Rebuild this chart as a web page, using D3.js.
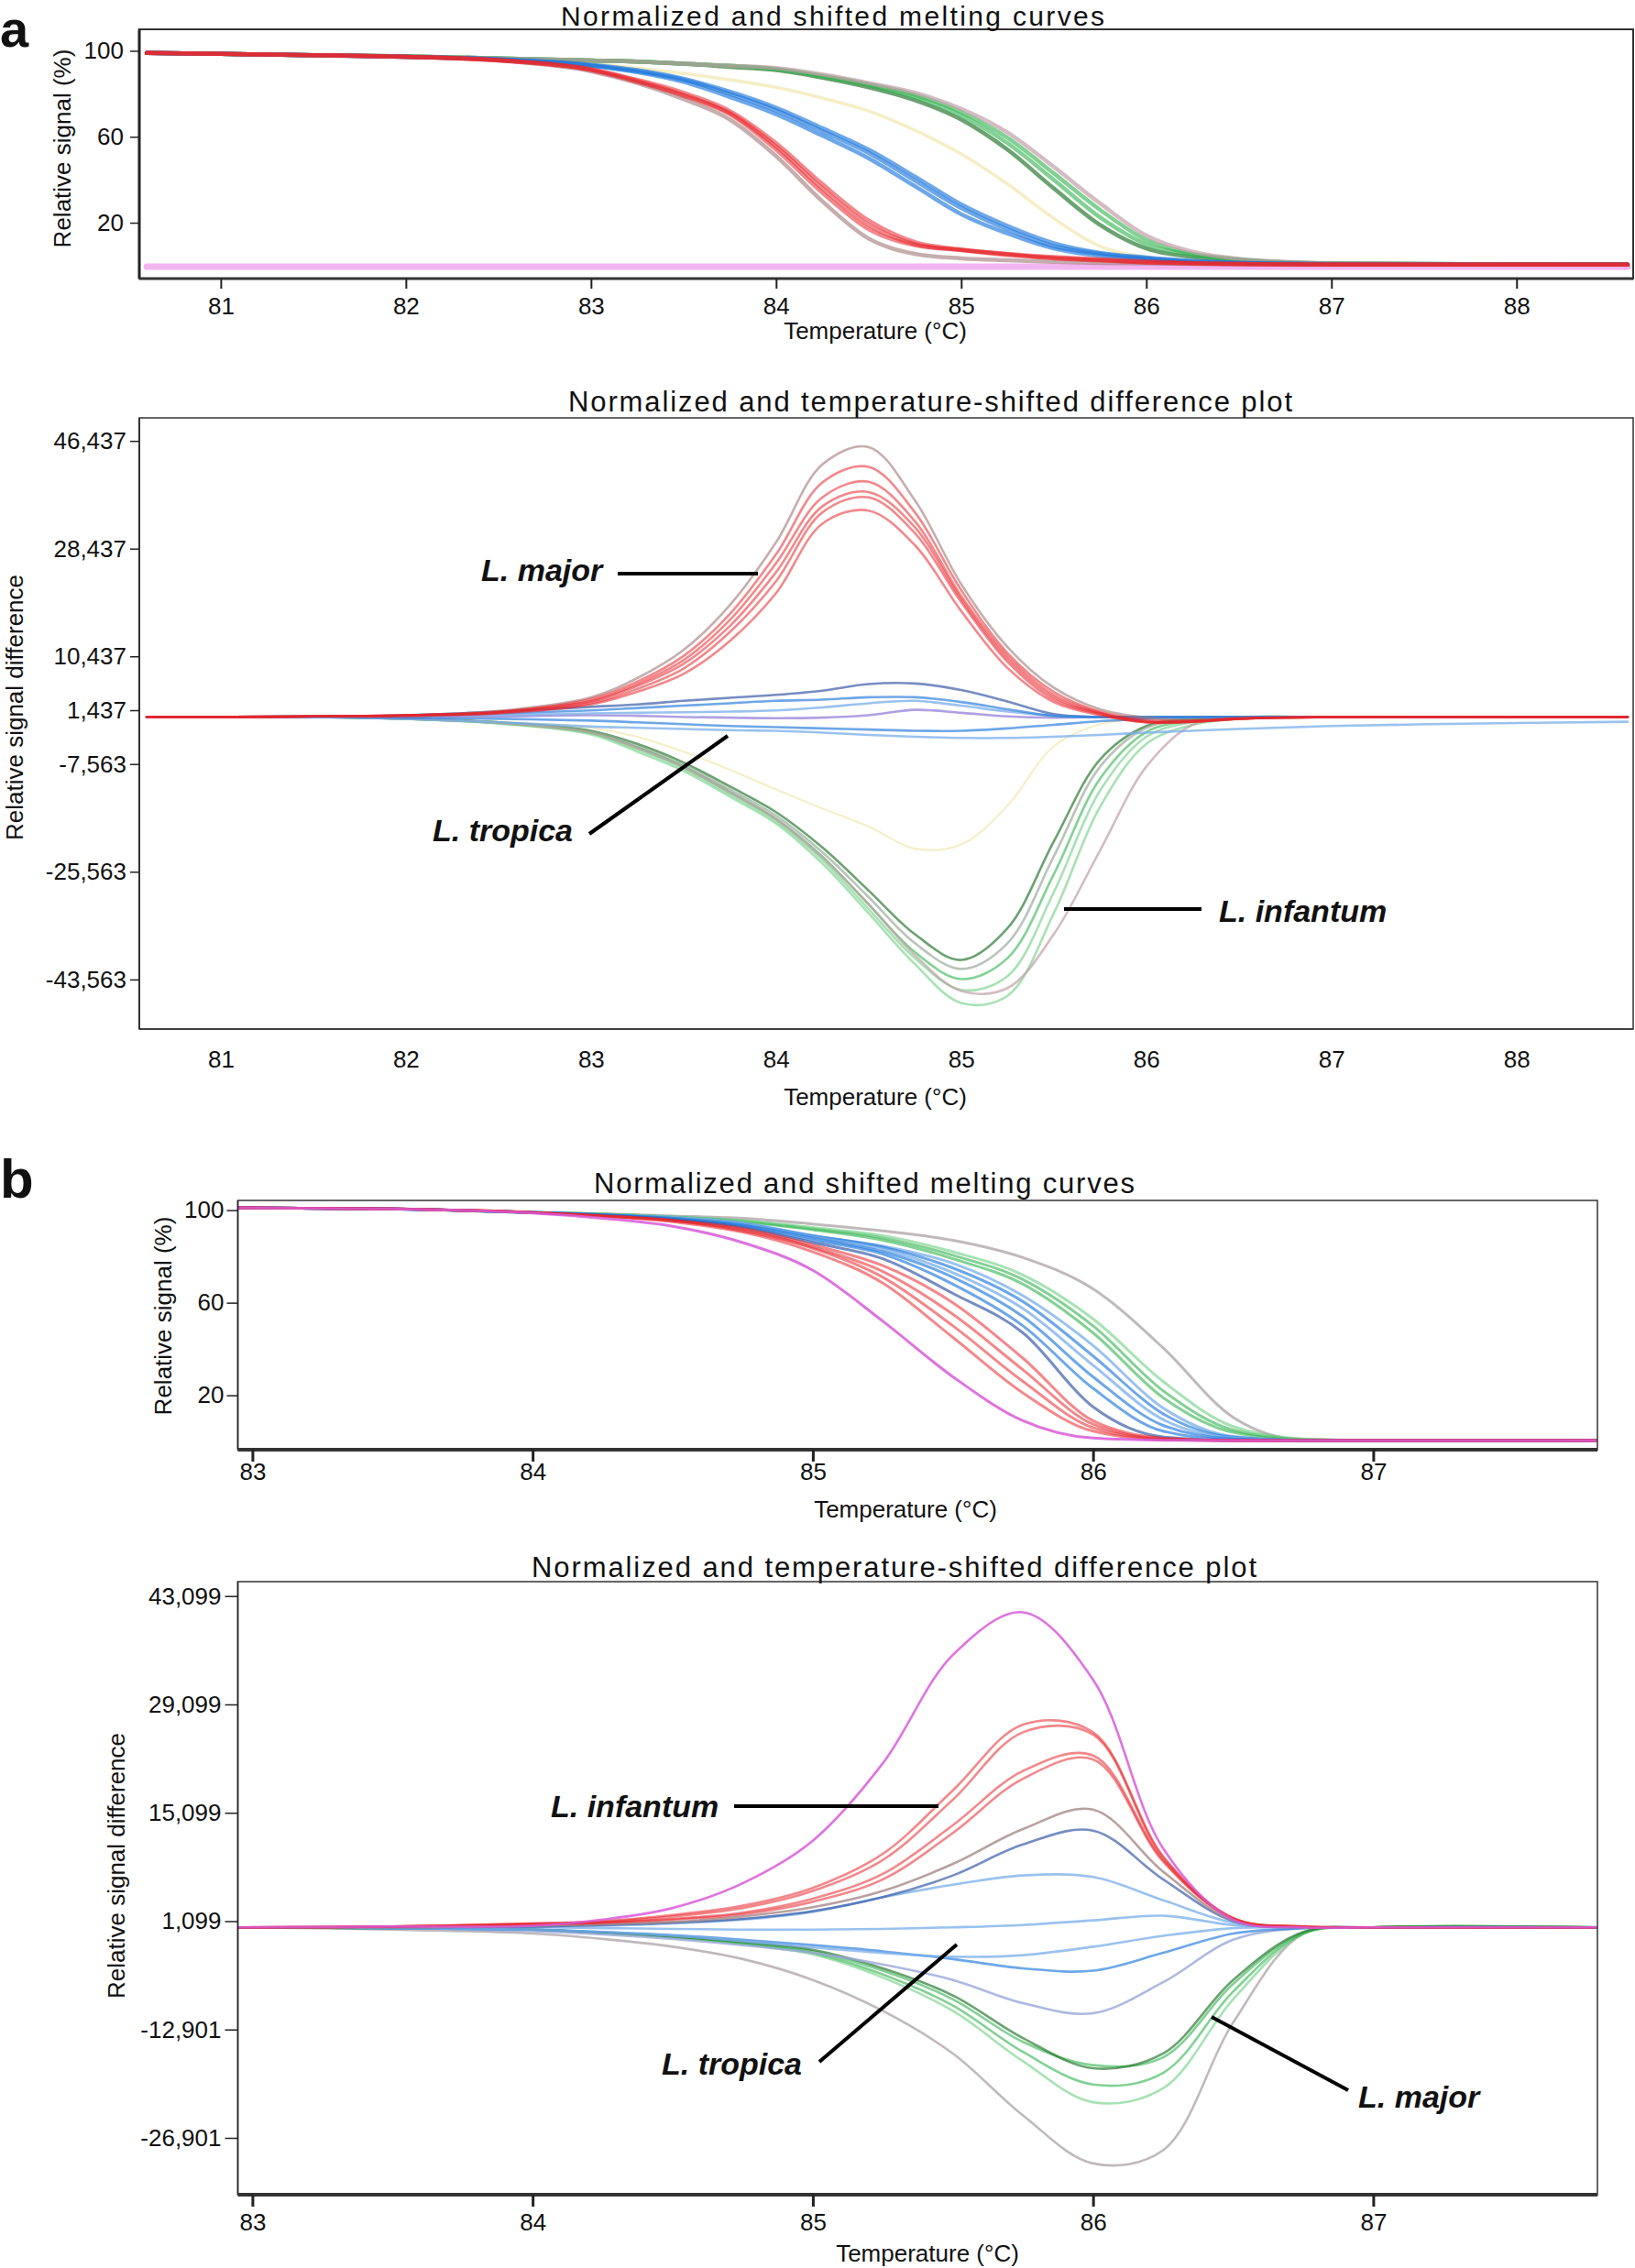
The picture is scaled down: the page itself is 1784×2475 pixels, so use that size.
<!DOCTYPE html>
<html><head><meta charset="utf-8">
<script src="https://cdn.jsdelivr.net/npm/d3@7"></script>
<style>
body{margin:0;background:#fff}
svg{display:block}
text{font-family:"Liberation Sans",Arial,sans-serif;fill:#111}
</style>
</head><body>
<svg id="c" width="1784" height="2475"></svg>
<script>
// ---------------- DATA ----------------
// Panel a: temperature grid (°C)
const aTemps = [80.6, 81, 81.5, 82, 82.5, 83, 83.25, 83.5, 83.75, 84, 84.25, 84.5, 84.75, 85, 85.25, 85.5, 85.75, 86, 86.25, 86.5, 87, 88, 88.6];
const aTempTicks = [81, 82, 83, 84, 85, 86, 87, 88];
const aTempTickLabels = ["81", "82", "83", "84", "85", "86", "87", "88"];

// Panel a, melting curves (relative signal %)
const aMeltGroups = ["pink", "yellow", "darkgreen", "green", "green", "graypink", "blue", "blue", "blue", "redgray", "red", "red", "red"];
const aMeltCurves = [
  [-0.5,-0.5,-0.5,-0.5,-0.5,-0.5,-0.5,-0.5,-0.5,-0.5,-0.5,-0.5,-0.5,-0.5,-0.5,-0.5,-0.5,-0.5,-0.5,-0.5,-0.5,-0.5,-0.5],
  [99,98.6,98,97.2,96,94,92,89.5,86.5,83,78,72,63,52,38,22,9,4,2,1.2,0.7,0.5,0.5],
  [99,98.6,98,97.4,96.5,95.5,95,94,92.5,91,87.5,83,77,68,54,36,19,8,4,2.5,1,0.6,0.5],
  [99,98.6,98,97.4,96.5,95.5,95,94,93,91.5,88,84,78.5,70,57,40,22.5,10,5,2.8,1,0.6,0.5],
  [99,98.6,98,97.4,96.5,95.5,95,94,93,91.5,88.5,84.5,79.5,71.5,59.5,43,26,12,5.5,3,1.1,0.6,0.5],
  [99,98.6,98,97.4,96.5,95.5,95,94,93,92,89,85,80.5,73,62,46,29,14,6.5,3.2,1.2,0.6,0.5],
  [99,98.6,98,97.2,96,93.5,91,87,81,73.5,64,54,41.5,28.5,18.5,10.5,6,3.8,2.2,1.4,0.7,0.5,0.5],
  [99,98.6,98,97.2,96,93.2,90.5,86.5,80,72.3,62.5,52.4,39.6,26.8,16.9,9.1,5.5,3.4,1.8,1.2,0.7,0.5,0.5],
  [99,98.6,98,97.2,95.8,93,90,85.5,78.5,70.5,60.5,50,37,24,15,8,4.5,3,1.7,1.1,0.7,0.5,0.5],
  [99,98.6,98,97.2,95.5,90.5,85,77.5,68,51,30,12.6,5.5,3.4,2.5,1.8,1.3,1,0.8,0.6,0.5,0.5,0.5],
  [99,98.6,98,97.2,95.5,91,85.5,79,70.5,54,34,17,9.5,7.3,5.3,3.4,2.4,1.5,1,0.8,0.5,0.5,0.5],
  [99,98.6,98,97.2,95.7,91.5,86.5,80.5,72,57,38,21,11,7.5,5.5,4,3,2,1.2,0.8,0.5,0.5,0.5],
  [99,98.6,98,97.2,95.6,91.2,86,79.5,71,55.5,36,19,10,7.2,5,3.6,2.6,1.6,1,0.8,0.5,0.5,0.5]
];
const aMeltYTicks = [100, 60, 20];
const aMeltYTickLabels = ["100", "60", "20"];

// Panel a, difference plot (relative signal difference, thousands)
const aDiffGroups = ["yellow", "darkgreen", "graygreen", "green", "lightgreen", "lightgreen", "graypink",
  "lightblue", "blue", "purple", "navy", "lightblue", "blue",
  "redgray", "red", "red", "red", "red", "red"];
const aDiffCurves = [
  [0.3,0.3,0.3,0,-0.5,-1.5,-3,-5.5,-8.5,-11.8,-15,-18,-21.7,-21,-14.5,-4.6,-0.9,0.1,0.3,0.3,0.3,0.3,0.3],
  [0.3,0.3,0.3,0,-0.6,-2,-4.2,-7.3,-11.3,-15.6,-21.5,-28.7,-36,-40.3,-35,-20.5,-6.8,-1.2,0,0.3,0.3,0.3,0.3],
  [0.3,0.3,0.3,0,-0.6,-2.1,-4.5,-7.7,-11.8,-16.2,-22.3,-29.8,-37.5,-41.8,-37.5,-23,-8,-1.5,-0.1,0.3,0.3,0.3,0.3],
  [0.3,0.3,0.3,0,-0.7,-2.3,-4.8,-8,-12.2,-16.7,-23,-31,-39,-43.5,-40,-26,-10,-2.2,-0.3,0.3,0.3,0.3,0.3],
  [0.3,0.3,0.3,0,-0.7,-2.4,-5.1,-8.3,-12.6,-17.1,-23.6,-31.8,-40,-45.3,-43,-29,-12,-3,-0.5,0.2,0.3,0.3,0.3],
  [0.3,0.3,0.3,0,-0.8,-2.6,-5.5,-8.7,-13,-17.5,-24.2,-32.5,-41,-47.5,-46.3,-32.5,-14.7,-4.2,-1,0,0.3,0.3,0.3],
  [0.3,0.3,0.3,0,-0.7,-2.3,-4.9,-8.1,-12.3,-16.8,-23.2,-31,-39.5,-45.5,-45,-36,-22,-8,-1,0.2,0.3,0.3,0.3],
  [0.3,0.3,0.3,0,-0.6,-1.3,-1.5,-1.7,-1.9,-2,-2.3,-2.7,-3,-3.2,-3.2,-3,-2.7,-2.3,-2,-1.7,-1.2,-0.7,-0.5],
  [0.3,0.3,0.3,0.2,0,-0.3,-0.6,-0.9,-1.2,-1.4,-1.6,-1.8,-2,-2,-1.6,-1,-0.4,0,0.3,0.3,0.3,0.3,0.3],
  [0.3,0.3,0.3,0.3,0.4,0.6,0.5,0.3,0.2,0.1,0.2,0.6,1.5,1.0,0.4,0.2,0.3,0.3,0.3,0.3,0.3,0.3,0.3],
  [0.3,0.3,0.4,0.6,1.2,2,2.4,3,3.5,4,4.7,5.8,5.9,4.8,2.9,0.8,0.3,0.3,0.3,0.3,0.3,0.3,0.3],
  [0.3,0.3,0.3,0.4,0.6,0.9,1,1.1,1.2,1.4,1.9,2.6,3.0,2.2,1.2,0.5,0.3,0.3,0.3,0.3,0.3,0.3,0.3],
  [0.3,0.3,0.4,0.5,0.9,1.4,1.8,2.2,2.6,3,3.2,3.6,3.6,2.8,1.6,0.5,0.3,0.3,0.3,0.3,0.3,0.3,0.3],
  [0.3,0.3,0.4,0.6,1.3,3.6,6.8,11.5,19,29.5,42.5,45.4,36.5,22.5,12,5.2,1.6,0.2,-0.2,0.1,0.3,0.3,0.3],
  [0.3,0.3,0.4,0.6,1.2,3.3,6.2,10.5,17.5,27.5,39.5,42.1,34.5,21.5,11,4.5,1.2,-0.2,-0.3,0.1,0.3,0.3,0.3],
  [0.3,0.3,0.4,0.6,1.1,3.0,5.8,9.8,16.5,26,37,39.6,33,20.5,10.5,4,1,-0.4,-0.4,0,0.3,0.3,0.3],
  [0.3,0.3,0.4,0.6,1.1,2.9,5.5,9.2,15.5,24.5,35.5,37.9,32,20,10,3.6,0.9,-0.5,-0.5,0,0.3,0.3,0.3],
  [0.3,0.3,0.4,0.5,1.0,2.6,5,8.4,14.5,23,34.5,37,31,19.5,9.5,3.2,0.8,-0.6,-0.5,0,0.3,0.3,0.3],
  [0.3,0.3,0.4,0.5,0.9,2.4,4.5,7.5,13,21,32.6,34.8,29,18,8.5,2.8,0.6,-0.6,-0.5,0,0.3,0.3,0.3]
];
const aDiffYTicks = [46.437, 28.437, 10.437, 1.437, -7.563, -25.563, -43.563];
const aDiffYTickLabels = ["46,437", "28,437", "10,437", "1,437", "-7,563", "-25,563", "-43,563"];
const aDiffNotes = ["L. major", "L. tropica", "L. infantum"];

// Panel b: temperature grid (°C)
const bTemps = [82.95, 83.5, 84, 84.25, 84.5, 84.75, 85, 85.25, 85.5, 85.75, 86, 86.25, 86.5, 86.75, 87, 87.8];
const bTempTicks = [83, 84, 85, 86, 87];
const bTempTickLabels = ["83", "84", "85", "86", "87"];

// Panel b, melting curves
const bMeltGroups = ["gray", "green", "green", "lightgreen", "lightblue", "blue", "lightblue", "blue", "blue", "navy", "red", "red", "red", "red", "pink"];
const bMeltCurves = [
  [101,100.5,99,98.5,97.5,96.5,94,91,87,79.5,66,40.5,10.5,0.8,0.6,0.6],
  [101,100.5,99,98.3,97,95,91.5,87,79,68,47,19,4,0.8,0.6,0.6],
  [101,100.5,99,98.3,97,95.3,92,88,80.5,70,50,22,5,1,0.6,0.6],
  [101,100.5,99,98.3,97.2,95.5,92.5,89,82,72,53,26,6.5,1.2,0.6,0.6],
  [101,100.5,99,98,97,94.5,89,84.5,77,63,41.5,14.5,2.2,0.5,0.5,0.5],
  [101,100.5,99,98,96.5,94,89,84,75,60.5,37,12,1.9,0.5,0.5,0.5],
  [101,100.5,99,98,96.5,94,88.5,83,73,57.5,33,9.5,1.6,0.5,0.5,0.5],
  [101,100.5,99,98,96.5,93.5,88,82,71,54,28,7,1.2,0.5,0.5,0.5],
  [101,100.5,99,98,96,93,87,81,68,50,23,4.5,0.8,0.5,0.5,0.5],
  [101,100.5,99,97.8,96,92.5,86,79,64,47,15,2,0.5,0.5,0.5,0.5],
  [101,100.5,99,97.5,95.5,92,85,76,60,36,9,1.5,0.5,0.5,0.5,0.5],
  [101,100.5,99,97.5,95.5,91.5,84,73.5,55,31,7.5,1.2,0.5,0.5,0.5,0.5],
  [101,100.5,99,97.5,95.5,91,83.5,71,50,26,6,1,0.5,0.5,0.5,0.5],
  [101,100.5,99,97.5,95,90.5,82,68.5,45,21,4.5,0.8,0.5,0.5,0.5,0.5],
  [101,100.5,98.8,96.5,93,86,74,52,28,9,1.5,0.6,0.5,0.5,0.5,0.5]
];
const bMeltYTicks = [100, 60, 20];
const bMeltYTickLabels = ["100", "60", "20"];

// Panel b, difference plot (thousands)
const bDiffGroups = ["gray", "lightgreen", "green", "green", "darkgreen",
  "lavender", "blue", "lightblue", "lightblue", "lightblue", "navy", "brown",
  "red", "red", "red", "red", "pink"];
const bDiffCurves = [
  [0.3,0,-0.5,-1.2,-2.2,-3.8,-6.5,-10.5,-16,-24,-30.2,-28.5,-12,-0.5,0.3,0.3],
  [0.3,0.2,0,-0.4,-1,-1.9,-3.2,-6.2,-10.5,-17,-22.3,-20.5,-9,-0.6,0.3,0.3],
  [0.3,0.2,0,-0.4,-1,-1.8,-3,-5.8,-9.8,-15.8,-20,-18.5,-8,-0.5,0.3,0.3],
  [0.3,0.2,0,-0.4,-0.9,-1.7,-2.8,-5.3,-9,-14.5,-17.5,-16.5,-7,-0.4,0.3,0.3],
  [0.3,0.2,0,-0.4,-0.9,-1.6,-2.6,-5,-8.5,-14,-17.9,-16,-6.5,-0.3,0.3,0.3],
  [0.3,0.2,-0.2,-0.6,-1.2,-2,-3,-4.5,-6.5,-9.5,-10.8,-6.8,-1.3,0.2,0.3,0.3],
  [0.3,0.2,0,-0.3,-0.7,-1.3,-2,-2.8,-3.8,-5,-5.3,-3,-0.5,0.2,0.3,0.3],
  [0.3,0.2,0,-0.3,-0.8,-1.5,-2.3,-3,-3.5,-3.3,-2.2,-0.8,0.2,0.3,0.3,0.3],
  [0.3,0.3,0.3,0.2,0.1,0,0,0.1,0.3,0.6,1.2,1.8,0.6,0.3,0.3,0.3],
  [0.3,0.3,0.4,0.5,0.8,1.3,2.3,4.2,5.8,7,6.8,3.8,0.9,0.3,0.3,0.3],
  [0.3,0.3,0.4,0.6,0.9,1.4,2.4,4.2,7,11,12.8,6.5,1.1,0.3,0.3,0.3],
  [0.3,0.3,0.5,0.7,1.0,1.7,2.9,5,8.5,13,15.5,7.5,1.2,0.3,0.3,0.3],
  [0.3,0.4,0.7,0.9,1.3,2,3.6,6.5,12.5,19.5,22,8.8,1.4,0.4,0.3,0.3],
  [0.3,0.4,0.7,0.9,1.4,2.2,4,7.2,13.5,20.5,22.5,9,1.4,0.4,0.3,0.3],
  [0.3,0.4,0.8,1.0,1.7,2.8,5,9,16.8,25.5,25.2,9.3,1.5,0.4,0.3,0.3],
  [0.3,0.4,0.8,1.1,1.9,3.1,5.4,9.8,18,26.5,25.5,9.5,1.5,0.4,0.3,0.3],
  [0.3,0.4,0.5,1.3,2.8,6,11.5,21.5,35.5,41,32.3,10.5,1.3,0.3,0.3,0.3]
];
const bDiffYTicks = [43.099, 29.099, 15.099, 1.099, -12.901, -26.901];
const bDiffYTickLabels = ["43,099", "29,099", "15,099", "1,099", "-12,901", "-26,901"];
const bDiffNotes = ["L. infantum", "L. tropica", "L. major"];

const meltTitle = "Normalized and shifted melting curves";
const diffTitle = "Normalized and temperature-shifted difference plot";
const xTitle = "Temperature (°C)";
const meltYTitle = "Relative signal (%)";
const diffYTitle = "Relative signal difference";

// ---------------- STYLES ----------------
const STYLE = {
  pink:{c:"#ee9cee",o:0.75}, yellow:{c:"#efe2a0",o:0.6},
  darkgreen:{c:"#2c7a34",o:0.7}, green:{c:"#2eb34c",o:0.6}, lightgreen:{c:"#6ccf80",o:0.6},
  graygreen:{c:"#8c9c8c",o:0.6}, graypink:{c:"#c0a0a8",o:0.7},
  blue:{c:"#1f78dc",o:0.65}, lightblue:{c:"#78aeea",o:0.75}, navy:{c:"#3a5ca8",o:0.7},
  purple:{c:"#7a60d0",o:0.6}, lavender:{c:"#98a8d8",o:0.8},
  redgray:{c:"#a07878",o:0.6}, red:{c:"#e8262c",o:0.55},
  gray:{c:"#b0a8aa",o:0.8}, brown:{c:"#a88888",o:0.8}
};
const bPink = {c:"#d85ad8",o:0.85};

// ---------------- LAYOUT ----------------
const panels = [
  {temps:aTemps, curves:aMeltCurves, groups:aMeltGroups, x0:152, x1:1782, y0:32, y1:304,
   xDomain:[80.56,88.63], yDomain:[-6,110], lw:4.5, curve:d3.curveMonotoneX,
   xTicks:aTempTicks, xLabels:aTempTickLabels, yTicks:aMeltYTicks, yLabels:aMeltYTickLabels,
   xTickSize:11, xTickPad:9.5, xTickW:2, yTickSize:10, yTickPad:7,
   title:meltTitle, titleX:612, titleY:28, titleLen:593, titleSize:30,
   xTitleX:955, xTitleY:370, yTitle:meltYTitle, yTitleX:68, yTitleY:162,
   leftW:3, bottomW:3, boxW:2, letter:"a", letterY:51, letterSize:56, notes:[]},
  {temps:aTemps, curves:aDiffCurves, groups:aDiffGroups, x0:152, x1:1782, y0:456, y1:1123,
   xDomain:[80.56,88.63], yDomain:[-51.85,50.29], lw:2.6, curve:d3.curveCatmullRom.alpha(0.5),
   xTicks:aTempTicks, xLabels:aTempTickLabels, yTicks:aDiffYTicks, yLabels:aDiffYTickLabels,
   xTickSize:0, xTickPad:23.5, xTickW:1, yTickSize:10, yTickPad:4,
   title:diffTitle, titleX:620, titleY:449, titleLen:790, titleSize:31,
   xTitleX:955, xTitleY:1206, yTitle:diffYTitle, yTitleX:16, yTitleY:772,
   leftW:1.5, bottomW:1.5, boxW:1.5,
   notes:[{t:aDiffNotes[0], tx:525, ty:634, l:[674,626,827,626]},
          {t:aDiffNotes[1], tx:472, ty:918, l:[643,910,794,803]},
          {t:aDiffNotes[2], tx:1330, ty:1006, l:[1161,992,1311,992]}]},
  {temps:bTemps, curves:bMeltCurves, groups:bMeltGroups, x0:259.5, x1:1743, y0:1310, y1:1582,
   xDomain:[82.948,87.80], yDomain:[-3.5,104.2], lw:3, curve:d3.curveMonotoneX,
   xTicks:bTempTicks, xLabels:bTempTickLabels, yTicks:bMeltYTicks, yLabels:bMeltYTickLabels,
   xTickSize:13, xTickPad:2, xTickW:3, yTickSize:12, yTickPad:3,
   title:meltTitle, titleX:648, titleY:1302, titleLen:590, titleSize:31,
   xTitleX:988, xTitleY:1656, yTitle:meltYTitle, yTitleX:178, yTitleY:1436,
   leftW:1.5, bottomW:4, boxW:1.5, letter:"b", letterY:1307, letterSize:60, notes:[], pinkStyle:true},
  {temps:bTemps, curves:bDiffCurves, groups:bDiffGroups, x0:259.5, x1:1743, y0:1726, y1:2395,
   xDomain:[82.948,87.80], yDomain:[-34.24,44.96], lw:2.6, curve:d3.curveCatmullRom.alpha(0.5),
   xTicks:bTempTicks, xLabels:bTempTickLabels, yTicks:bDiffYTicks, yLabels:bDiffYTickLabels,
   xTickSize:13, xTickPad:8, xTickW:3, yTickSize:14, yTickPad:4,
   title:diffTitle, titleX:580, titleY:1721, titleLen:791, titleSize:31,
   xTitleX:1012, xTitleY:2468, yTitle:diffYTitle, yTitleX:127, yTitleY:2036,
   leftW:1.5, bottomW:4, boxW:1.5, pinkStyle:true,
   notes:[{t:bDiffNotes[0], tx:601, ty:1983, l:[801,1971,1024,1971]},
          {t:bDiffNotes[1], tx:722, ty:2264, l:[894,2250,1044,2122]},
          {t:bDiffNotes[2], tx:1482, ty:2300, l:[1322,2201,1471,2281]}]}
];

// ---------------- DRAW ----------------
const svg = d3.select("#c");
const defs = svg.append("defs");

panels.forEach((p, pi) => {
  const x = d3.scaleLinear().domain(p.xDomain).range([p.x0, p.x1]);
  const y = d3.scaleLinear().domain(p.yDomain).range([p.y1, p.y0]);
  const clipId = "clip" + pi;
  defs.append("clipPath").attr("id", clipId).append("rect")
    .attr("x", p.x0).attr("y", p.y0).attr("width", p.x1 - p.x0).attr("height", p.y1 - p.y0);

  const g = svg.append("g");
  const line = d3.line().x((d, i) => x(p.temps[i])).y(d => y(d)).curve(p.curve);
  const styleOf = i => (p.pinkStyle && p.groups[i] === "pink") ? bPink : STYLE[p.groups[i]];

  g.append("g").attr("clip-path", `url(#${clipId})`)
    .selectAll("path").data(d3.range(p.curves.length)).join("path")
    .attr("d", i => line(p.curves[i]))
    .attr("fill", "none")
    .attr("stroke", i => styleOf(i).c)
    .attr("stroke-opacity", i => styleOf(i).o)
    .attr("stroke-width", i => (pi === 0 && p.groups[i] === "pink") ? 7 : (p.groups[i] === "yellow" ? p.lw * 0.8 : p.lw))
    .attr("stroke-linejoin", "round").attr("stroke-linecap", "round");

  // frame
  g.append("rect").attr("x", p.x0).attr("y", p.y0).attr("width", p.x1 - p.x0).attr("height", p.y1 - p.y0)
    .attr("fill", "none").attr("stroke", "#333").attr("stroke-width", p.boxW);
  g.append("line").attr("x1", p.x0).attr("x2", p.x0).attr("y1", p.y0).attr("y2", p.y1)
    .attr("stroke", "#222").attr("stroke-width", p.leftW);
  g.append("line").attr("x1", p.x0).attr("x2", p.x1).attr("y1", p.y1).attr("y2", p.y1)
    .attr("stroke", "#333").attr("stroke-width", p.bottomW);

  // x axis
  const xAxis = d3.axisBottom(x).tickValues(p.xTicks)
    .tickFormat(d => p.xLabels[p.xTicks.indexOf(d)])
    .tickSize(p.xTickSize).tickPadding(p.xTickPad);
  const gx = g.append("g").attr("transform", `translate(0,${p.y1})`).call(xAxis);
  gx.attr("font-size", null).attr("font-family", null);
  gx.select(".domain").remove();
  gx.selectAll(".tick line").attr("stroke", "#222").attr("stroke-width", p.xTickW);
  gx.selectAll(".tick text").attr("font-size", 26).attr("fill", "#111");

  // y axis
  const yAxis = d3.axisLeft(y).tickValues(p.yTicks)
    .tickFormat(d => p.yLabels[p.yTicks.indexOf(d)])
    .tickSize(p.yTickSize).tickPadding(p.yTickPad);
  const gy = g.append("g").attr("transform", `translate(${p.x0},0)`).call(yAxis);
  gy.attr("font-size", null).attr("font-family", null);
  gy.select(".domain").remove();
  gy.selectAll(".tick line").attr("stroke", "#222").attr("stroke-width", 1.5);
  gy.selectAll(".tick text").attr("font-size", 26).attr("fill", "#111");

  // titles
  g.append("text").attr("x", p.titleX).attr("y", p.titleY)
    .attr("font-size", p.titleSize).attr("textLength", p.titleLen).attr("lengthAdjust", "spacing")
    .text(p.title);
  g.append("text").attr("x", p.xTitleX).attr("y", p.xTitleY)
    .attr("text-anchor", "middle").attr("font-size", 26).text(xTitle);
  g.append("text").attr("transform", `translate(${p.yTitleX},${p.yTitleY}) rotate(-90)`)
    .attr("text-anchor", "middle").attr("dominant-baseline", "central")
    .attr("font-size", 26).text(p.yTitle);

  if (p.letter) {
    g.append("text").attr("x", 0).attr("y", p.letterY).attr("font-size", p.letterSize)
      .attr("font-weight", "bold").text(p.letter);
  }

  // annotations
  p.notes.forEach(n => {
    g.append("line").attr("x1", n.l[0]).attr("y1", n.l[1]).attr("x2", n.l[2]).attr("y2", n.l[3])
      .attr("stroke", "#000").attr("stroke-width", 4);
    g.append("text").attr("x", n.tx).attr("y", n.ty).attr("font-size", 34)
      .attr("font-weight", "bold").attr("font-style", "italic").text(n.t);
  });
});
</script>
</body></html>
